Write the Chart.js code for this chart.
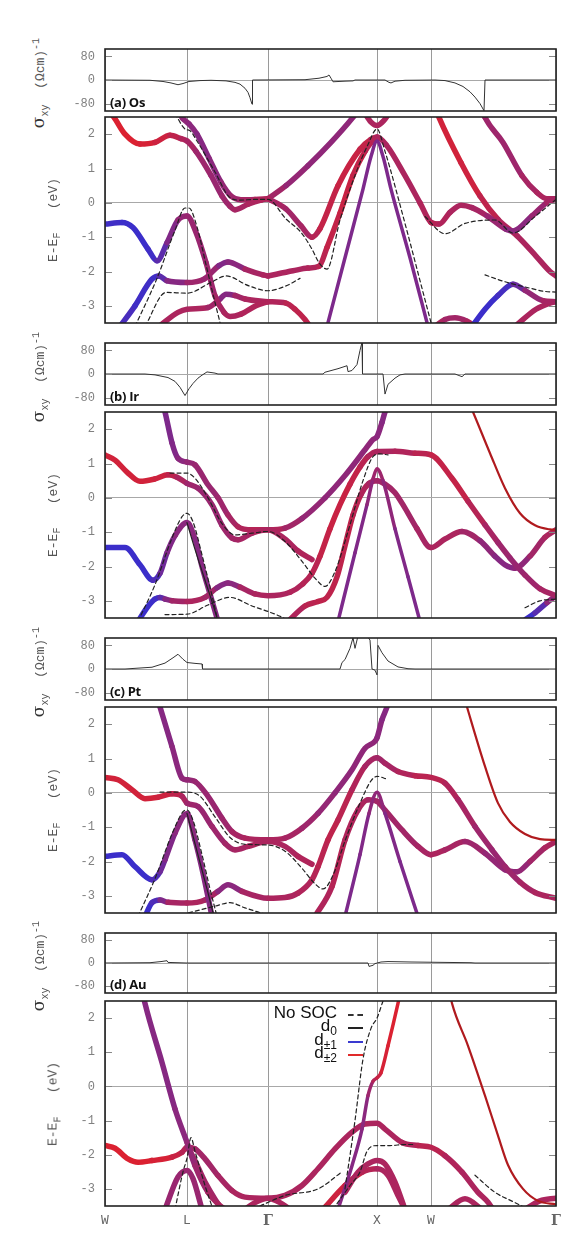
<!DOCTYPE html>
<html lang="en">
<head>
<meta charset="UTF-8">
<meta name="viewport" content="width=device-width, initial-scale=1.0">
<script src="https://cdn.jsdelivr.net/npm/chart.js"></script>
<title>Band structures with SOC and Hall conductivity</title>
<style>
  body { margin: 0; background: #fff; }
  .page { position: relative; width: 587px; height: 1255px; overflow: hidden; background: #fff; }
  .page canvas { position: absolute; }
  .ytitle { position: absolute; white-space: nowrap; transform: translate(-50%, -50%) rotate(-90deg);
            color: #555; font-family: "Liberation Mono", monospace; font-size: 13px; }
  .ytitle .s { font-family: "DejaVu Serif", serif; font-size: 17px; color: #333; }
  .ytitle sub, .ytitle sup { font-size: 10px; line-height: 0; }
  .tag { position: absolute; font: bold 13px "Open Sans", sans-serif; color: #111; letter-spacing: -0.3px; }
  .leg { position: absolute; right: 250px; font-family: "Liberation Sans", sans-serif; font-size: 17px;
         color: #111; text-align: right; line-height: 16px; }
  .leg sub { font-size: 12px; line-height: 0; }
  .sample { position: absolute; left: 348px; width: 15px; height: 0; }
</style>
</head>
<body>
<div class="page" id="page"></div>
<script>
// k path positions (same scale for every panel) and their labels
const K_TICKS = [0, 82, 163, 272, 326, 451];
const K_NAMES = ['W', 'L', 'Γ', 'X', 'W', 'Γ'];
const SIGMA_TICKS = [-80, 0, 80];
const ENERGY_TICKS = [-3, -2, -1, 0, 1, 2];

// sigma_xy curves [k, sigma]
const osSigma = [[0,0],[45,-1],[58,-5],[66,-10],[73,-16],[78,-12],[84,-5],[95,-2],[106,-1],[121,-3],[130,-8],[135,-14],[140,-28],[143,-42],[145,-60],[147,-82],[147.5,0],[200,1],[214,6],[222,12],[224,17],[226,6],[228,-6],[240,-4],[248,-3],[250,0],[280,0],[284,-8],[286,-10],[290,-4],[300,-1],[330,0],[340,-2],[350,-10],[358,-22],[365,-40],[370,-58],[375,-80],[379,-104],[380,0],[451,0]];
const irSigma = [[0,0],[40,0],[50,-3],[63,-12],[70,-25],[75,-45],[80,-73],[84,-50],[88,-32],[93,-14],[97,-4],[102,7],[110,3],[113,0],[218,0],[220,6],[233,18],[242,28],[243,8],[247,12],[252,32],[255,80],[257,107],[257.5,0],[278,0],[280,-68],[283,-35],[290,-14],[295,-3],[300,0],[350,0],[357,-9],[360,0],[451,0]];
const ptSigma = [[0,0],[20,0],[47,6],[60,20],[68,38],[73,50],[78,33],[82,22],[90,19],[97,17],[97.5,0],[235,0],[237,22],[240,32],[245,70],[248,106],[250,70],[253,112],[262,112],[265,98],[267,0],[270,-4],[272,-20],[273,80],[277,55],[283,27],[293,7],[303,1],[310,0],[451,0]];
const auSigma = [[0,0],[45,1],[56,5],[62,8],[63,2],[82,0],[263,0],[264,-12],[268,-8],[270,-2],[276,3.5],[283,5],[306,3.5],[366,1],[370,0],[451,0]];

// thick bands [k, E, w]   w = d(+-1) share: 0 red ... 1 blue
const osBands = [
  [[0,2.8,0.05],[9,2.49,0.05],[20,2.0,0.05],[35,1.71,0.05],[50,1.76,0.1],[65,1.97,0.15],[76,1.87,0.25],[82,1.8,0.3],[91,1.5,0.35],[106,0.8,0.4],[117,0.2,0.4],[125,-0.1,0.35],[130,-0.2,0.35],[143,-0.04,0.3],[156,0.08,0.3],[163,0.12,0.25]],
  [[72,2.7,0.4],[78,2.45,0.45],[84,2.3,0.45],[92,2.0,0.5],[104,1.3,0.5],[116,0.6,0.45],[126,0.2,0.4],[136,0.09,0.35],[150,0.1,0.3],[163,0.12,0.25]],
  [[163,0.12,0.3],[181,0.5,0.4],[203,1.08,0.45],[226,1.76,0.45],[248,2.49,0.45],[256,2.8,0.45]],
  [[163,0.12,0.3],[181,-0.18,0.35],[196,-0.67,0.35],[207,-1.0,0.3],[215,-0.75,0.2],[233,0.5,0.15],[255,1.56,0.15],[266,1.85,0.2],[272,1.92,0.3],[282,1.66,0.3],[300,0.79,0.3],[315,0.0,0.3],[326,-0.57,0.25],[334,-0.62,0.25],[345,-0.28,0.3],[356,-0.07,0.3],[367,-0.14,0.3],[382,-0.38,0.35],[401,-0.77,0.45],[408,-0.82,0.5],[427,-0.38,0.45],[442,0.01,0.35],[451,0.12,0.3]],
  [[163,-2.13,0.3],[188,-1.98,0.3],[203,-1.9,0.3],[214,-1.85,0.25],[222,-1.3,0.2],[235,-0.3,0.15],[248,0.8,0.15],[260,1.5,0.2],[268,1.8,0.25],[272,1.85,0.3]],
  [[163,-2.88,0.3],[181,-2.92,0.25],[190,-3.1,0.2],[200,-3.4,0.2],[205,-3.6,0.2]],
  [[222,-3.6,0.55],[240,-1.6,0.55],[258,0.4,0.55],[266,1.35,0.55],[272,1.8,0.55],[278,1.35,0.55],[286,0.4,0.55],[305,-1.6,0.55],[323,-3.6,0.55]],
  [[258,2.7,0.3],[266,2.35,0.3],[272,2.25,0.3],[279,2.4,0.3],[286,2.7,0.3]],
  [[0,-0.62,0.85],[17,-0.57,0.9],[28,-0.72,0.9],[43,-1.35,0.9],[52,-1.69,0.85],[62,-1.16,0.6],[73,-0.5,0.45],[82,-0.38,0.4],[91,-0.86,0.4],[101,-1.74,0.4],[110,-2.71,0.35],[119,-3.19,0.3],[125,-3.31,0.3],[136,-3.24,0.3],[151,-3.0,0.25],[163,-2.88,0.3]],
  [[15,-3.6,0.8],[30,-3.0,0.85],[47,-2.22,0.9],[54,-2.13,0.85],[62,-2.27,0.6],[82,-2.32,0.4],[99,-2.22,0.35],[114,-1.83,0.45],[123,-1.72,0.6],[140,-1.93,0.35],[158,-2.1,0.3],[163,-2.13,0.3]],
  [[54,-3.6,0.3],[73,-3.19,0.3],[82,-3.1,0.3],[103,-3.05,0.3],[115,-2.8,0.4],[121,-2.66,0.6],[130,-2.7,0.4],[140,-2.8,0.3],[163,-2.88,0.3]],
  [[376,2.8,0.35],[380,2.49,0.35],[398,1.76,0.4],[417,0.79,0.35],[432,0.3,0.3],[442,0.12,0.3],[451,0.12,0.3]],
  [[330,2.8,0.1],[334,2.49,0.1],[356,1.17,0.1],[375,0.2,0.15],[393,-0.48,0.25],[412,-0.96,0.3],[431,-1.55,0.3],[445,-2.0,0.3],[451,-2.13,0.3]],
  [[367,-3.6,0.9],[380,-3.1,0.9],[393,-2.7,0.9],[408,-2.37,0.8],[420,-2.55,0.5],[438,-2.85,0.35],[451,-2.88,0.3]],
  [[410,-3.6,0.3],[431,-3.1,0.3],[445,-2.92,0.3],[451,-2.88,0.3]],
  [[330,-3.6,0.3],[340,-3.4,0.3],[350,-3.35,0.4],[362,-3.45,0.3],[370,-3.6,0.3]]
];
const irBands = [
  [[0,1.25,0.1],[10,1.1,0.1],[22,0.75,0.1],[35,0.48,0.1],[50,0.55,0.1],[63,0.67,0.15],[72,0.6,0.25],[82,0.42,0.35],[93,0.28,0.4],[107,-0.2,0.4],[117,-0.8,0.4],[127,-1.17,0.35],[133,-1.22,0.35],[147,-1.03,0.3],[163,-0.93,0.3],[180,-1.2,0.3],[193,-1.55,0.3],[207,-1.8,0.25]],
  [[58,2.7,0.55],[60,2.5,0.55],[67,1.6,0.55],[73,1.15,0.5],[82,1.04,0.45],[90,0.96,0.4],[103,0.38,0.4],[113,0.0,0.4],[123,-0.5,0.35],[133,-0.84,0.3],[147,-0.93,0.25],[163,-0.93,0.25],[180,-0.88,0.3],[197,-0.6,0.4],[220,0.0,0.45],[240,0.65,0.45],[260,1.4,0.45],[268,1.7,0.45],[272,1.78,0.45],[277,2.2,0.5],[280,2.5,0.5],[283,2.7,0.5]],
  [[33,-3.6,0.9],[42,-3.2,0.9],[50,-2.95,0.9],[55,-2.9,0.85],[60,-2.95,0.6],[67,-3.0,0.4],[82,-3.02,0.3],[100,-2.9,0.3],[112,-2.62,0.4],[123,-2.48,0.6],[135,-2.6,0.35],[150,-2.8,0.3],[163,-2.85,0.3],[185,-2.75,0.3],[198,-2.5,0.25],[207,-2.2,0.25],[215,-1.7,0.2],[225,-0.9,0.15],[235,-0.2,0.15],[245,0.4,0.15],[255,0.9,0.2],[263,1.2,0.25],[272,1.35,0.3],[290,1.36,0.3],[310,1.3,0.25],[326,1.25,0.2],[347,0.57,0.15],[363,-0.1,0.2],[380,-0.79,0.3],[393,-1.3,0.35],[405,-1.75,0.4],[420,-2.25,0.4],[435,-2.65,0.35],[451,-2.85,0.3]],
  [[183,-3.6,0.3],[200,-3.15,0.25],[213,-3.02,0.2],[222,-2.9,0.2],[232,-2.3,0.2],[240,-1.4,0.2],[248,-0.5,0.2],[256,0.1,0.25],[264,0.42,0.3],[272,0.5,0.35],[280,0.4,0.35],[290,0.15,0.35],[300,-0.3,0.35],[312,-0.9,0.35],[326,-1.45,0.3],[340,-1.2,0.3],[357,-0.98,0.3],[375,-1.25,0.4],[390,-1.7,0.5],[400,-1.95,0.5],[410,-2.05,0.5],[425,-1.7,0.4],[440,-1.15,0.3],[451,-0.93,0.3]],
  [[0,-1.45,0.9],[20,-1.45,0.9],[35,-1.95,0.9],[48,-2.4,0.9],[55,-2.2,0.7],[62,-1.6,0.55],[70,-1.1,0.5],[82,-0.72,0.45],[90,-1.2,0.5],[97,-2.0,0.5],[105,-2.8,0.5],[113,-3.6,0.5]],
  [[233,-3.6,0.55],[250,-1.6,0.55],[262,-0.2,0.5],[268,0.55,0.4],[272,0.85,0.35],[278,0.5,0.4],[290,-0.9,0.5],[303,-2.3,0.55],[315,-3.6,0.55]],
  [[418,-3.6,0.9],[430,-3.35,0.9],[442,-3.05,0.6],[451,-2.85,0.3]]
];
const ptBands = [
  [[0,0.45,0.1],[13,0.38,0.1],[27,0.09,0.1],[40,-0.17,0.1],[53,-0.13,0.1],[67,-0.03,0.15],[77,-0.1,0.25],[82,-0.3,0.35],[93,-0.4,0.4],[107,-0.98,0.4],[120,-1.47,0.35],[130,-1.66,0.35],[143,-1.56,0.3],[163,-1.42,0.3],[180,-1.56,0.3],[193,-1.85,0.3],[207,-2.08,0.25]],
  [[53,2.7,0.5],[55,2.5,0.5],[67,1.35,0.5],[77,0.43,0.45],[82,0.38,0.45],[90,0.33,0.4],[103,-0.1,0.4],[117,-0.74,0.4],[127,-1.13,0.35],[140,-1.32,0.3],[163,-1.37,0.3],[180,-1.32,0.3],[197,-1.03,0.35],[213,-0.6,0.4],[230,0.0,0.45],[247,0.67,0.45],[260,1.3,0.45],[270,1.5,0.45],[272,1.6,0.45],[277,2.13,0.5],[282,2.5,0.5],[284,2.7,0.5]],
  [[0,-1.85,0.9],[17,-1.8,0.9],[30,-2.15,0.9],[47,-2.53,0.9],[55,-2.3,0.7],[60,-1.95,0.55],[70,-1.17,0.5],[82,-0.6,0.45],[90,-1.37,0.5],[98,-2.34,0.5],[107,-3.6,0.5]],
  [[40,-3.6,0.9],[47,-3.2,0.9],[55,-3.12,0.7],[63,-3.19,0.35],[82,-3.21,0.3],[100,-3.12,0.3],[113,-2.87,0.35],[123,-2.68,0.6],[137,-2.87,0.35],[163,-3.07,0.3],[180,-3.05,0.3],[193,-2.92,0.3],[207,-2.53,0.25],[213,-2.15,0.25],[223,-1.37,0.2],[233,-0.79,0.2],[247,0.09,0.25],[260,0.77,0.3],[272,1.02,0.35],[280,0.86,0.35],[293,0.62,0.3],[310,0.5,0.25],[326,0.45,0.2],[340,0.28,0.25],[353,-0.2,0.3],[370,-0.98,0.35],[387,-1.66,0.4],[400,-2.15,0.4],[415,-2.6,0.35],[430,-2.9,0.3],[451,-3.07,0.3]],
  [[210,-3.6,0.3],[227,-2.73,0.25],[240,-1.37,0.25],[253,-0.5,0.3],[263,-0.2,0.3],[272,-0.25,0.35],[280,-0.5,0.35],[297,-1.08,0.35],[313,-1.56,0.35],[326,-1.8,0.3],[340,-1.66,0.3],[360,-1.42,0.35],[380,-1.76,0.4],[400,-2.24,0.45],[412,-2.3,0.45],[425,-2.0,0.4],[440,-1.6,0.3],[451,-1.42,0.3]],
  [[240,-3.6,0.55],[255,-1.8,0.55],[264,-0.6,0.5],[272,0.02,0.4],[280,-0.6,0.5],[295,-2.0,0.55],[313,-3.6,0.55]]
];
const auBands = [
  [[38,2.7,0.5],[40,2.43,0.5],[57,0.7,0.5],[70,-0.66,0.5],[82,-1.64,0.45],[90,-2.32,0.4],[103,-3.1,0.35],[113,-3.44,0.3],[120,-3.6,0.3]],
  [[0,-1.73,0.05],[10,-1.81,0.05],[23,-2.12,0.05],[33,-2.22,0.05],[47,-2.17,0.05],[67,-2.07,0.1],[77,-1.93,0.2],[82,-1.78,0.3],[90,-1.83,0.35],[100,-2.12,0.35],[113,-2.61,0.35],[127,-3.05,0.3],[140,-3.24,0.3],[163,-3.27,0.3],[180,-3.19,0.3],[197,-2.9,0.3],[213,-2.41,0.3],[230,-1.83,0.3],[247,-1.34,0.3],[260,-1.1,0.3],[272,-1.08,0.3],[280,-1.25,0.3],[297,-1.64,0.3],[313,-1.73,0.25],[326,-1.78,0.2],[340,-2.03,0.25],[357,-2.51,0.3],[373,-3.1,0.3],[383,-3.39,0.3],[388,-3.6,0.3]],
  [[82,-1.78,0.35],[87,-2.0,0.35],[100,-2.8,0.35],[110,-3.3,0.35],[117,-3.6,0.35]],
  [[60,-3.6,0.4],[73,-2.65,0.4],[82,-2.46,0.4],[88,-2.7,0.4],[97,-3.6,0.4]],
  [[140,-3.6,0.3],[150,-3.4,0.3],[163,-3.27,0.3],[175,-3.4,0.3],[185,-3.6,0.3]],
  [[233,-3.6,0.5],[247,-2.32,0.5],[257,-1.25,0.5],[263,-0.27,0.45],[268,0.15,0.3],[272,0.25,0.2],[276,0.4,0.1],[283,1.19,0.05],[293,2.43,0.05],[295,2.7,0.05]],
  [[240,-3.1,0.3],[253,-2.51,0.3],[263,-2.27,0.3],[272,-2.17,0.3],[280,-2.27,0.3],[290,-2.8,0.3],[300,-3.6,0.3]],
  [[218,-3.6,0.15],[240,-2.9,0.1],[257,-2.51,0.2],[272,-2.41,0.3],[283,-2.6,0.3],[293,-3.19,0.3],[300,-3.6,0.3]],
  [[343,-3.6,0.3],[360,-3.29,0.3],[377,-3.6,0.3]],
  [[420,-3.6,0.3],[435,-3.35,0.3],[451,-3.27,0.3]]
];

// thin red (mostly d0 / sp) bands [k, E]
const osThin = [];
const irThin = [[[365,2.7],[368,2.5],[385,1.3],[400,0.28],[415,-0.45],[430,-0.8],[445,-0.92],[451,-0.93]]];
const ptThin = [[[360,2.7],[362,2.5],[380,0.77],[393,-0.3],[405,-0.85],[420,-1.2],[435,-1.35],[451,-1.37]]];
const auThin = [[[345,2.7],[347,2.43],[363,1.19],[380,-0.27],[393,-1.44],[403,-2.3],[418,-3.0],[433,-3.35],[451,-3.45]]];

// thin black lines [k, E]
const osSp = [];
const irSp = [[[82,-0.72],[90,-1.5],[100,-2.4],[110,-3.3],[113,-3.6]]];
const ptSp = [[[82,-0.6],[92,-1.7],[102,-2.8],[109,-3.6]]];
const auSp = [];

// no-SOC bands, dashed [k, E]
const osDash = [
  [[30,-3.6],[52,-2.2],[70,-0.8],[80,-0.15],[84,-0.15],[92,-0.7],[101,-1.8],[110,-2.9],[116,-3.6]],
  [[70,2.6],[80,2.15],[85,2.1],[92,1.8],[110,0.9],[125,0.15],[135,0.08],[150,0.1],[163,0.1],[181,-0.47],[196,-0.86],[207,-1.35],[214,-1.74],[222,-1.93],[235,-0.5],[250,0.8],[263,1.7],[272,2.15],[280,1.5],[300,-0.6],[318,-2.6],[327,-3.6]],
  [[40,-3.6],[61,-2.61],[82,-2.63],[106,-2.32],[121,-2.13],[144,-2.42],[163,-2.56],[181,-2.42],[195,-2.2]],
  [[320,-0.4],[340,-0.9],[360,-0.6],[390,-0.5],[408,-0.88],[430,-0.4],[451,0.1]],
  [[380,-2.1],[400,-2.3],[420,-2.45],[440,-2.58],[451,-2.6]]
];
const irDash = [
  [[33,-3.6],[50,-2.53],[67,-1.17],[77,-0.55],[82,-0.45],[88,-0.7],[97,-1.66],[105,-2.6],[113,-3.6]],
  [[65,0.72],[82,0.72],[90,0.57],[103,0.0],[117,-0.75],[130,-1.08],[147,-1.03],[163,-0.98],[180,-1.27],[197,-1.85],[210,-2.34],[220,-2.58],[230,-2.15],[243,-0.98],[258,0.5],[268,1.2],[275,1.28],[283,1.25]],
  [[60,-3.4],[82,-3.39],[103,-3.12],[125,-2.9],[147,-3.15],[163,-3.31],[175,-3.45],[185,-3.6]],
  [[420,-3.2],[435,-3.0],[451,-2.95]]
];
const ptDash = [
  [[33,-3.6],[50,-2.5],[67,-1.2],[78,-0.55],[82,-0.5],[88,-0.8],[97,-1.8],[105,-2.8],[112,-3.6]],
  [[55,0.02],[82,0.02],[95,-0.1],[110,-0.7],[125,-1.3],[140,-1.5],[163,-1.52],[180,-1.7],[197,-2.2],[210,-2.65],[218,-2.8],[228,-2.4],[240,-1.4],[255,-0.3],[266,0.35],[272,0.48],[282,0.4]],
  [[70,-3.6],[90,-3.45],[110,-3.3],[125,-3.2],[140,-3.35],[163,-3.55],[175,-3.6]]
];
const auDash = [
  [[70,-3.6],[78,-2.5],[82,-2.1],[86,-1.5],[90,-1.9],[100,-2.9],[108,-3.6]],
  [[228,-3.6],[245,-2.9],[255,-2.5],[262,-1.9],[272,-1.73],[285,-1.73],[300,-1.7],[310,-1.7]],
  [[240,-3.0],[250,-1.0],[258,0.8],[266,1.7],[272,2.0],[278,2.5]],
  [[155,-3.5],[180,-3.19],[213,-3.0],[237,-2.5]],
  [[370,-2.6],[390,-3.1],[410,-3.4],[420,-3.55]]
];

const page = document.getElementById('page');

function mix(w) {
  // red (d+-2) -> blue (d+-1)
  const r = Math.round(228 + (40 - 228) * w);
  const g = Math.round(32 + (48 - 32) * w);
  const b = Math.round(40 + (220 - 40) * w);
  return `rgb(${r},${g},${b})`;
}

// frame on four sides + small inward ticks like gnuplot
const framePlugin = {
  id: 'frame',
  afterDatasetsDraw(chart) {
    const { ctx, chartArea: a, scales } = chart;
    ctx.save();
    ctx.strokeStyle = '#888';
    ctx.lineWidth = 1;
    scales.y.ticks.forEach(t => {
      const py = Math.round(scales.y.getPixelForValue(t.value)) + 0.5;
      ctx.beginPath();
      ctx.moveTo(a.left, py); ctx.lineTo(a.left + 7, py);
      ctx.moveTo(a.right - 7, py); ctx.lineTo(a.right, py);
      ctx.stroke();
    });
    ctx.strokeStyle = '#222';
    ctx.lineWidth = 1.6;
    ctx.strokeRect(a.left, a.top, a.right - a.left, a.bottom - a.top);
    ctx.restore();
  }
};

function axes(yMin, yMax, yTicks, showNames) {
  return {
    x: {
      type: 'linear', min: 0, max: 451,
      afterBuildTicks: s => { s.ticks = K_TICKS.map(v => ({ value: v })); },
      afterFit: s => { s.height = showNames ? 26 : 0; s.paddingLeft = 0; s.paddingRight = 0; },
      grid: { color: '#9a9a9a', lineWidth: 1, drawTicks: false },
      border: { display: false },
      ticks: {
        display: showNames, autoSkip: false, maxRotation: 0, padding: 7, color: '#666',
        font: c => (c.tick && c.tick.value && K_NAMES[K_TICKS.indexOf(c.tick.value)] === 'Γ')
          ? { family: 'DejaVu Serif', size: 14, weight: 'bold' }
          : { family: 'Liberation Mono', size: 13 },
        callback: v => K_NAMES[K_TICKS.indexOf(v)]
      }
    },
    y: {
      min: yMin, max: yMax,
      afterBuildTicks: s => { s.ticks = yTicks.map(v => ({ value: v })); },
      afterFit: s => { s.width = 50; s.paddingTop = 0; s.paddingBottom = 0; },
      grid: { drawTicks: false, color: c => (c.tick && c.tick.value === 0) ? '#a8a8a8' : 'rgba(0,0,0,0)' },
      border: { display: false },
      ticks: { padding: 10, color: '#808080', font: { family: 'Liberation Mono', size: 12 } }
    }
  };
}

function makeCanvas(top, height) {
  const c = document.createElement('canvas');
  c.width = 509; c.height = height;
  c.style.left = '55px'; c.style.top = top + 'px';
  c.style.width = '509px'; c.style.height = height + 'px';
  page.appendChild(c);
  return c.getContext('2d');
}

const baseOptions = (scales, padBottom) => ({
  responsive: false, animation: false, events: [],
  layout: { padding: { top: 3, bottom: padBottom, left: 0, right: 8 } },
  plugins: { legend: { display: false }, tooltip: { enabled: false } },
  scales
});

function sigmaChart(top, h, serie) {
  const ctx = makeCanvas(top - 3, h + 6);
  new Chart(ctx, {
    type: 'line',
    data: { datasets: [{ data: serie, borderColor: '#333', borderWidth: 1, pointRadius: 0, tension: 0, clip: 0 }] },
    options: baseOptions(axes(-105, 105, SIGMA_TICKS, false), 3),
    plugins: [framePlugin]
  });
}

function bandChart(top, h, p, showNames) {
  const extra = showNames ? 26 : 0;
  const ctx = makeCanvas(top - 3, h + 6 + extra);
  const common = { pointRadius: 0, cubicInterpolationMode: 'monotone', clip: 0, fill: false,
                   borderCapStyle: 'round', borderJoinStyle: 'round' };
  const datasets = [];
  p.bands.forEach((b, i) => datasets.push({
    ...common, data: b, borderWidth: p.narrow.includes(i) ? 3.5 : 5.5, order: p.narrow.includes(i) ? 3 : 4,
    borderColor: mix(b[0][2]),
    segment: { borderColor: c => mix((b[c.p0DataIndex][2] + b[c.p1DataIndex][2]) / 2) }
  }));
  p.thin.forEach(b => datasets.push({ ...common, data: b, borderWidth: 2.2, order: 3, borderColor: '#b01a1e' }));
  p.sp.forEach(b => datasets.push({ ...common, data: b, borderWidth: 1.2, order: 2, borderColor: '#222' }));
  p.dash.forEach(b => datasets.push({ ...common, data: b, borderWidth: 1.2, order: 1, borderColor: '#222', borderDash: [4, 3] }));
  new Chart(ctx, {
    type: 'line',
    data: { datasets },
    options: baseOptions(axes(-3.5, 2.5, ENERGY_TICKS, showNames), 3),
    plugins: [framePlugin]
  });
}

function addHtml(cls, html, style) {
  const d = document.createElement('div');
  d.className = cls;
  d.innerHTML = html;
  Object.assign(d.style, style);
  page.appendChild(d);
}

const panels = [
  { tag: '(a) Os', sTop: 49, sH: 62, bTop: 117, bH: 206, sigma: osSigma, bands: osBands, narrow: [6], thin: osThin, sp: osSp, dash: osDash },
  { tag: '(b) Ir', sTop: 343, sH: 62, bTop: 412, bH: 206, sigma: irSigma, bands: irBands, narrow: [5], thin: irThin, sp: irSp, dash: irDash },
  { tag: '(c) Pt', sTop: 638, sH: 62, bTop: 707, bH: 206, sigma: ptSigma, bands: ptBands, narrow: [5], thin: ptThin, sp: ptSp, dash: ptDash },
  { tag: '(d) Au', sTop: 933, sH: 60, bTop: 1001, bH: 205, sigma: auSigma, bands: auBands, narrow: [5], thin: auThin, sp: auSp, dash: auDash }
];

panels.forEach((p, i) => {
  sigmaChart(p.sTop, p.sH, p.sigma);
  bandChart(p.bTop, p.bH, p, i === panels.length - 1);
  addHtml('ytitle', '<span class="s">σ</span><sub>xy</sub>&nbsp;&nbsp;(Ωcm)<sup>-1</sup>',
          { left: '38px', top: (p.sTop + p.sH / 2 + 3) + 'px' });
  addHtml('ytitle', 'E-E<sub>F</sub>&nbsp;&nbsp;&nbsp;(eV)', { left: '53px', top: (p.bTop + p.bH / 2) + 'px' });
  addHtml('tag', p.tag, { left: '110px', top: (p.sTop + p.sH - 18) + 'px' });
});

// legend of panel (d)
const legendRows = [
  { html: 'No SOC', line: '2px dashed #333' },
  { html: 'd<sub>0</sub>', line: '2px solid #222' },
  { html: 'd<sub>±1</sub>', line: '2px solid #3a3ad0' },
  { html: 'd<sub>±2</sub>', line: '2px solid #e02a2a' }
];
legendRows.forEach((r, i) => {
  const y = 1014 + i * 13.3;
  addHtml('leg', r.html, { top: (y - 9) + 'px' });
  addHtml('sample', '', { top: y + 'px', borderTop: r.line });
});
</script>
</body>
</html>
